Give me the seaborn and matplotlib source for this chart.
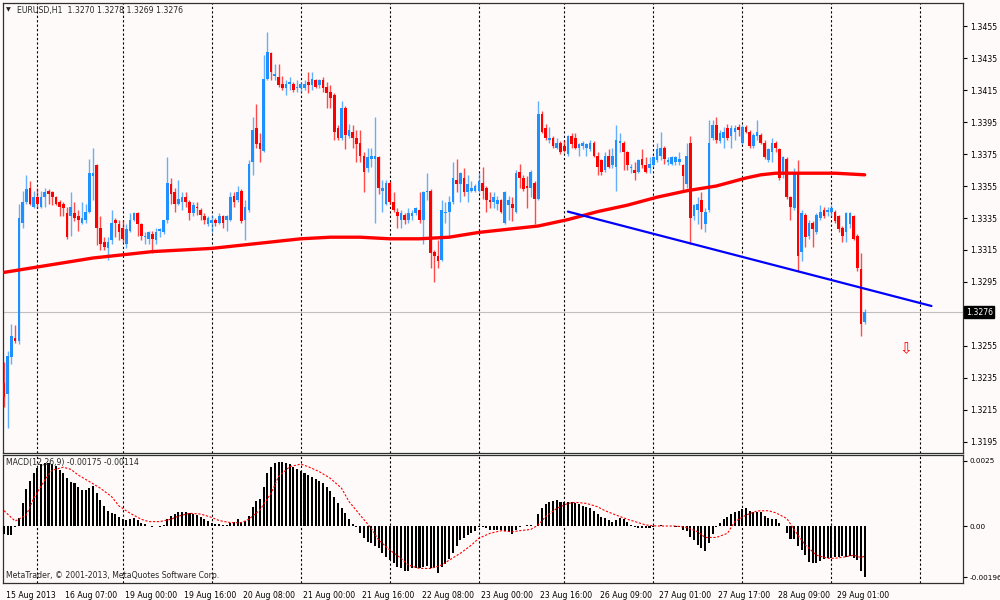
import matplotlib
matplotlib.use("Agg")
import matplotlib.pyplot as plt
import matplotlib.transforms as mtransforms
import numpy as np
import pandas as pd
import seaborn as sns

# ---- EURUSD H1 candles, 15 Aug 15:00 .. 29 Aug 09:00 ----
open_ = [1.3232, 1.3225, 1.3248, 1.3260, 1.3258, 1.3332, 1.3345, 1.3354, 1.3342, 1.3348,
         1.3342, 1.3348, 1.3352, 1.3351, 1.3348, 1.3345, 1.3344, 1.3338, 1.3336, 1.3338,
         1.3336, 1.3332, 1.3334, 1.3339, 1.3361, 1.3368, 1.3329, 1.3320, 1.3316, 1.3321,
         1.3334, 1.3331, 1.3329, 1.3319, 1.3327, 1.3334, 1.3338, 1.3331, 1.3323, 1.3322,
         1.3325, 1.3321, 1.3327, 1.3326, 1.3334, 1.3356, 1.3351, 1.3344, 1.3345, 1.3348,
         1.3345, 1.3338, 1.3342, 1.3340, 1.3336, 1.3331, 1.3332, 1.3334, 1.3332, 1.3336,
         1.3334, 1.3334, 1.3349, 1.3346, 1.3352, 1.3334, 1.3340, 1.3370, 1.3391, 1.3382,
         1.3377, 1.3422, 1.3438, 1.3424, 1.3423, 1.3419, 1.3416, 1.3419, 1.3419, 1.3416,
         1.3416, 1.3416, 1.3420, 1.3418, 1.3421, 1.3418, 1.3421, 1.3417, 1.3414, 1.3412,
         1.3391, 1.3385, 1.3404, 1.3386, 1.3389, 1.3385, 1.3382, 1.3374, 1.3366, 1.3372,
         1.3372, 1.3373, 1.3352, 1.3344, 1.3357, 1.3345, 1.3339, 1.3334, 1.3337, 1.3334,
         1.3336, 1.3338, 1.3340, 1.3334, 1.3351, 1.3352, 1.3314, 1.3311, 1.3309, 1.3338,
         1.3339, 1.3345, 1.3359, 1.3356, 1.3360, 1.3351, 1.3352, 1.3352, 1.3352, 1.3357,
         1.3354, 1.3346, 1.3345, 1.3344, 1.3346, 1.3332, 1.3343, 1.3344, 1.3339, 1.3364,
         1.3360, 1.3355, 1.3354, 1.3357, 1.3347, 1.3400, 1.3391, 1.3384, 1.3385, 1.3379,
         1.3382, 1.3380, 1.3375, 1.3386, 1.3385, 1.3379, 1.3380, 1.3379, 1.3378, 1.3382,
         1.3374, 1.3371, 1.3365, 1.3374, 1.3368, 1.3367, 1.3382, 1.3382, 1.3376, 1.3366,
         1.3365, 1.3364, 1.3372, 1.3368, 1.3366, 1.3368, 1.3371, 1.3374, 1.3379, 1.3370,
         1.3369, 1.3370, 1.3370, 1.3368, 1.3356, 1.3382, 1.3336, 1.3340, 1.3346, 1.3331,
         1.3340, 1.3385, 1.3393, 1.3383, 1.3385, 1.3391, 1.3386, 1.3389, 1.3392, 1.3382,
         1.3392, 1.3389, 1.3380, 1.3386, 1.3387, 1.3382, 1.3371, 1.3376, 1.3382, 1.3378,
         1.3362, 1.3372, 1.3348, 1.3341, 1.3364, 1.3314, 1.3337, 1.3324, 1.3332, 1.3326,
         1.3335, 1.3340, 1.3339, 1.3339, 1.3339, 1.3336, 1.3329, 1.3326, 1.3331, 1.3336,
         1.3324, 1.3303, 1.3270]
high = [1.3245, 1.3252, 1.3269, 1.3268, 1.3344, 1.3352, 1.3362, 1.3358, 1.3352, 1.3354,
        1.3352, 1.3354, 1.3353, 1.3352, 1.3349, 1.3346, 1.3345, 1.3342, 1.3351, 1.3345,
        1.3340, 1.3345, 1.3344, 1.3372, 1.3379, 1.3369, 1.3336, 1.3323, 1.3323, 1.3340,
        1.3335, 1.3334, 1.3334, 1.3331, 1.3338, 1.3339, 1.3339, 1.3332, 1.3326, 1.3327,
        1.3327, 1.3329, 1.3329, 1.3334, 1.3373, 1.3360, 1.3354, 1.3359, 1.3351, 1.3351,
        1.3346, 1.3345, 1.3345, 1.3341, 1.3338, 1.3336, 1.3337, 1.3335, 1.3338, 1.3337,
        1.3337, 1.3351, 1.3351, 1.3355, 1.3353, 1.3346, 1.3371, 1.3398, 1.3406, 1.3388,
        1.3437, 1.3451, 1.3439, 1.3431, 1.3431, 1.3424, 1.3421, 1.3423, 1.3420, 1.3421,
        1.3420, 1.3421, 1.3426, 1.3426, 1.3422, 1.3422, 1.3423, 1.3420, 1.3418, 1.3413,
        1.3393, 1.3408, 1.3405, 1.3394, 1.3393, 1.3390, 1.3390, 1.3376, 1.3379, 1.3379,
        1.3398, 1.3374, 1.3359, 1.3359, 1.3358, 1.3351, 1.3341, 1.3340, 1.3338, 1.3341,
        1.3340, 1.3342, 1.3351, 1.3352, 1.3363, 1.3353, 1.3315, 1.3321, 1.3346, 1.3345,
        1.3349, 1.3370, 1.3372, 1.3364, 1.3366, 1.3362, 1.3358, 1.3356, 1.3363, 1.3367,
        1.3355, 1.3351, 1.3351, 1.3349, 1.3347, 1.3352, 1.3349, 1.3348, 1.3365, 1.3369,
        1.3362, 1.3361, 1.3365, 1.3358, 1.3408, 1.3402, 1.3394, 1.3392, 1.3386, 1.3385,
        1.3383, 1.3384, 1.3387, 1.3388, 1.3388, 1.3382, 1.3383, 1.3382, 1.3384, 1.3383,
        1.3376, 1.3372, 1.3376, 1.3378, 1.3379, 1.3393, 1.3388, 1.3383, 1.3377, 1.3369,
        1.3370, 1.3372, 1.3378, 1.3373, 1.3373, 1.3374, 1.3382, 1.3389, 1.3380, 1.3373,
        1.3374, 1.3374, 1.3376, 1.3369, 1.3382, 1.3386, 1.3344, 1.3348, 1.3351, 1.3341,
        1.3396, 1.3396, 1.3398, 1.3390, 1.3392, 1.3394, 1.3393, 1.3393, 1.3394, 1.3393,
        1.3393, 1.3390, 1.3388, 1.3396, 1.3388, 1.3384, 1.3379, 1.3385, 1.3383, 1.3379,
        1.3374, 1.3373, 1.3349, 1.3366, 1.3371, 1.3340, 1.3338, 1.3334, 1.3333, 1.3338,
        1.3343, 1.3342, 1.3342, 1.3343, 1.3340, 1.3337, 1.3330, 1.3339, 1.3339, 1.3337,
        1.3325, 1.3313, 1.3278]
low = [1.3217, 1.3204, 1.3244, 1.3257, 1.3256, 1.3329, 1.3344, 1.3343, 1.3341, 1.3341,
       1.3341, 1.3342, 1.3344, 1.3343, 1.3343, 1.3336, 1.3336, 1.3322, 1.3324, 1.3333,
       1.3327, 1.3331, 1.3332, 1.3338, 1.3346, 1.3318, 1.3315, 1.3315, 1.3309, 1.3319,
       1.3323, 1.3321, 1.3320, 1.3316, 1.3326, 1.3333, 1.3324, 1.3321, 1.3319, 1.3319,
       1.3313, 1.3319, 1.3323, 1.3325, 1.3332, 1.3344, 1.3339, 1.3343, 1.3340, 1.3342,
       1.3334, 1.3336, 1.3337, 1.3334, 1.3331, 1.3330, 1.3326, 1.3330, 1.3331, 1.3329,
       1.3327, 1.3333, 1.3342, 1.3345, 1.3332, 1.3321, 1.3339, 1.3362, 1.3379, 1.3370,
       1.3376, 1.3421, 1.3421, 1.3421, 1.3417, 1.3415, 1.3412, 1.3415, 1.3414, 1.3414,
       1.3414, 1.3415, 1.3413, 1.3415, 1.3416, 1.3416, 1.3414, 1.3404, 1.3404, 1.3384,
       1.3384, 1.3384, 1.3378, 1.3385, 1.3379, 1.3370, 1.3370, 1.3351, 1.3364, 1.3367,
       1.3332, 1.3350, 1.3339, 1.3343, 1.3344, 1.3339, 1.3329, 1.3329, 1.3331, 1.3332,
       1.3334, 1.3337, 1.3332, 1.3319, 1.3346, 1.3304, 1.3295, 1.3304, 1.3308, 1.3332,
       1.3323, 1.3344, 1.3351, 1.3345, 1.3349, 1.3345, 1.3351, 1.3351, 1.3351, 1.3347,
       1.3339, 1.3341, 1.3341, 1.3340, 1.3338, 1.3331, 1.3334, 1.3333, 1.3338, 1.3354,
       1.3352, 1.3341, 1.3348, 1.3331, 1.3346, 1.3388, 1.3384, 1.3382, 1.3379, 1.3378,
       1.3375, 1.3376, 1.3374, 1.3379, 1.3378, 1.3374, 1.3378, 1.3374, 1.3377, 1.3373,
       1.3362, 1.3362, 1.3364, 1.3366, 1.3366, 1.3352, 1.3376, 1.3365, 1.3365, 1.3363,
       1.3359, 1.3363, 1.3366, 1.3363, 1.3363, 1.3367, 1.3370, 1.3371, 1.3369, 1.3368,
       1.3368, 1.3368, 1.3368, 1.3352, 1.3354, 1.3319, 1.3334, 1.3331, 1.3328, 1.3326,
       1.3339, 1.3384, 1.3382, 1.3382, 1.3379, 1.3384, 1.3379, 1.3384, 1.3386, 1.3381,
       1.3388, 1.3379, 1.3379, 1.3384, 1.3381, 1.3372, 1.3370, 1.3370, 1.3376, 1.3359,
       1.3360, 1.3347, 1.3334, 1.3340, 1.3302, 1.3308, 1.3317, 1.3322, 1.3317, 1.3325,
       1.3334, 1.3335, 1.3336, 1.3336, 1.3332, 1.3326, 1.3320, 1.3320, 1.3329, 1.3321,
       1.3302, 1.3261, 1.3269]
close = [1.3223, 1.3249, 1.3261, 1.3258, 1.3335, 1.3345, 1.3353, 1.3344, 1.3348, 1.3344,
         1.3348, 1.3351, 1.3350, 1.3348, 1.3344, 1.3342, 1.3341, 1.3323, 1.3342, 1.3335,
         1.3334, 1.3335, 1.3339, 1.3363, 1.3363, 1.3329, 1.3319, 1.3317, 1.3320, 1.3332,
         1.3332, 1.3326, 1.3322, 1.3328, 1.3334, 1.3338, 1.3331, 1.3324, 1.3324, 1.3326,
         1.3322, 1.3326, 1.3328, 1.3334, 1.3357, 1.3350, 1.3344, 1.3347, 1.3348, 1.3345,
         1.3338, 1.3343, 1.3341, 1.3337, 1.3334, 1.3335, 1.3334, 1.3332, 1.3336, 1.3332,
         1.3336, 1.3348, 1.3345, 1.3351, 1.3333, 1.3342, 1.3369, 1.3390, 1.3381, 1.3378,
         1.3422, 1.3439, 1.3426, 1.3425, 1.3418, 1.3416, 1.3419, 1.3420, 1.3415, 1.3417,
         1.3419, 1.3419, 1.3418, 1.3422, 1.3417, 1.3421, 1.3416, 1.3413, 1.3410, 1.3389,
         1.3385, 1.3404, 1.3387, 1.3390, 1.3385, 1.3381, 1.3374, 1.3364, 1.3373, 1.3374,
         1.3374, 1.3354, 1.3354, 1.3357, 1.3345, 1.3340, 1.3336, 1.3338, 1.3334, 1.3338,
         1.3338, 1.3341, 1.3334, 1.3351, 1.3352, 1.3313, 1.3311, 1.3308, 1.3340, 1.3339,
         1.3345, 1.3360, 1.3356, 1.3363, 1.3351, 1.3356, 1.3354, 1.3355, 1.3358, 1.3352,
         1.3346, 1.3345, 1.3348, 1.3346, 1.3339, 1.3351, 1.3346, 1.3341, 1.3363, 1.3360,
         1.3353, 1.3354, 1.3364, 1.3347, 1.3400, 1.3389, 1.3385, 1.3385, 1.3380, 1.3382,
         1.3376, 1.3377, 1.3386, 1.3381, 1.3379, 1.3381, 1.3382, 1.3381, 1.3382, 1.3374,
         1.3367, 1.3364, 1.3374, 1.3367, 1.3374, 1.3384, 1.3383, 1.3376, 1.3368, 1.3367,
         1.3363, 1.3371, 1.3368, 1.3364, 1.3369, 1.3373, 1.3378, 1.3379, 1.3372, 1.3371,
         1.3373, 1.3373, 1.3372, 1.3361, 1.3374, 1.3335, 1.3343, 1.3344, 1.3339, 1.3339,
         1.3382, 1.3393, 1.3384, 1.3388, 1.3389, 1.3385, 1.3391, 1.3391, 1.3390, 1.3392,
         1.3389, 1.3380, 1.3387, 1.3389, 1.3382, 1.3373, 1.3378, 1.3382, 1.3379, 1.3360,
         1.3373, 1.3348, 1.3342, 1.3364, 1.3311, 1.3338, 1.3323, 1.3332, 1.3328, 1.3337,
         1.3339, 1.3336, 1.3340, 1.3341, 1.3333, 1.3328, 1.3324, 1.3338, 1.3338, 1.3322,
         1.3304, 1.3269, 1.3276]

# moving average (red), read every 8 bars
ma_idx = [0, 8, 16, 24, 32, 40, 48, 56, 64, 72, 80, 88, 96, 104, 112, 120, 128, 136,
          144, 152, 160, 168, 176, 184, 192, 200, 204, 208, 216, 224, 232]
ma_val = [1.3301, 1.3304, 1.3307, 1.3310, 1.3312, 1.3314, 1.3315, 1.3316, 1.3318, 1.3320,
          1.3322, 1.3323, 1.3323, 1.3322, 1.3322, 1.3323, 1.3326, 1.3328, 1.3330, 1.3334,
          1.3339, 1.3343, 1.3348, 1.3352, 1.3355, 1.3360, 1.3362, 1.3363, 1.3363, 1.3363, 1.3362]

# trend line (blue)
trend_idx = [152, 250]
trend_val = [1.3339, 1.3280]

bid = 1.3276
arrow_idx, arrow_price = 243, 1.3253

# MACD(12,26,9) histogram
macd = [-0.00030, -0.00035, -0.00035, -0.00005, 0.00029, 0.00087, 0.00141, 0.00174, 0.00205, 0.00222,
        0.00238, 0.00244, 0.00241, 0.00238, 0.00231, 0.00215, 0.00203, 0.00183, 0.00171, 0.00164,
        0.00151, 0.00138, 0.00138, 0.00145, 0.00154, 0.00126, 0.00100, 0.00077, 0.00059, 0.00051,
        0.00046, 0.00033, 0.00026, 0.00023, 0.00027, 0.00032, 0.00023, 0.00013, 0.00008, 0.00001,
        -0.00002, -0.00001, -0.00005, 0.00004, 0.00026, 0.00038, 0.00046, 0.00053, 0.00055, 0.00055,
        0.00051, 0.00046, 0.00042, 0.00036, 0.00027, 0.00019, 0.00013, 0.00008, 0.00008, 0.00004,
        0.00004, 0.00010, 0.00017, 0.00026, 0.00017, 0.00019, 0.00038, 0.00074, 0.00096, 0.00103,
        0.00151, 0.00203, 0.00226, 0.00241, 0.00247, 0.00247, 0.00244, 0.00238, 0.00228, 0.00218,
        0.00213, 0.00205, 0.00196, 0.00187, 0.00179, 0.00174, 0.00164, 0.00151, 0.00136, 0.00113,
        0.00087, 0.00068, 0.00051, 0.00026, 0.00008, -0.00005, -0.00026, -0.00047, -0.00060, -0.00067,
        -0.00077, -0.00086, -0.00105, -0.00118, -0.00131, -0.00144, -0.00156, -0.00163, -0.00172, -0.00172,
        -0.00163, -0.00160, -0.00163, -0.00159, -0.00154, -0.00160, -0.00163, -0.00182, -0.00159, -0.00146,
        -0.00128, -0.00105, -0.00077, -0.00054, -0.00047, -0.00035, -0.00028, -0.00018, -0.00005, -0.00005,
        -0.00009, -0.00015, -0.00015, -0.00015, -0.00015, -0.00018, -0.00022, -0.00031, -0.00015, -0.00005,
        0.00001, 0.00004, 0.00004, 0.00001, 0.00046, 0.00068, 0.00085, 0.00094, 0.00096, 0.00100,
        0.00094, 0.00091, 0.00094, 0.00091, 0.00087, 0.00085, 0.00078, 0.00072, 0.00068, 0.00059,
        0.00046, 0.00033, 0.00029, 0.00023, 0.00017, 0.00023, 0.00029, 0.00026, 0.00017, 0.00004,
        -0.00005, -0.00009, -0.00009, -0.00009, -0.00009, -0.00005, 0.00001, 0.00004, 0.00001, 0.00000,
        0.00001, -0.00005, -0.00005, -0.00015, -0.00018, -0.00044, -0.00054, -0.00073, -0.00086, -0.00095,
        -0.00067, -0.00031, -0.00005, 0.00010, 0.00026, 0.00033, 0.00046, 0.00055, 0.00059, 0.00064,
        0.00068, 0.00059, 0.00055, 0.00055, 0.00055, 0.00038, 0.00029, 0.00027, 0.00026, 0.00010,
        0.00001, -0.00026, -0.00051, -0.00051, -0.00077, -0.00092, -0.00112, -0.00137, -0.00144, -0.00141,
        -0.00133, -0.00128, -0.00124, -0.00124, -0.00118, -0.00118, -0.00115, -0.00118, -0.00115, -0.00124,
        -0.00131, -0.00172, -0.00195]

# signal line (red dashed)
sig_idx = [0, 3, 6, 8, 11, 13, 16, 18, 20, 23, 26, 29, 31, 34, 37, 39, 42, 45, 47, 50,
           53, 56, 58, 61, 64, 66, 69, 72, 74, 77, 80, 82, 85, 88, 91, 93, 96, 99, 101, 104,
           107, 109, 112, 115, 118, 120, 123, 126, 128, 131, 134, 137, 139, 142, 144, 146, 149, 152, 154, 157,
           160, 162, 165, 168, 171, 173, 176, 179, 181, 184, 187, 189, 192, 195, 197, 200, 203, 206, 208, 211,
           214, 216, 219, 222, 224, 227, 229, 231, 232]
sig_val = [0.00059, 0.00019, 0.00042, 0.00106, 0.00177, 0.00215, 0.00226, 0.00218, 0.00196, 0.00171,
           0.00145, 0.00113, 0.00077, 0.00049, 0.00026, 0.00017, 0.00017, 0.00026, 0.00038, 0.00049,
           0.00046, 0.00033, 0.00021, 0.00013, 0.00013, 0.00026, 0.00062, 0.00126, 0.00190, 0.00228,
           0.00238, 0.00228, 0.00209, 0.00183, 0.00145, 0.00094, 0.00042, -0.00009, -0.00054, -0.00092,
           -0.00124, -0.00150, -0.00163, -0.00163, -0.00150, -0.00131, -0.00105, -0.00073, -0.00047, -0.00028,
           -0.00018, -0.00022, -0.00018, -0.00013, 0.00004, 0.00036, 0.00068, 0.00087, 0.00091, 0.00087,
           0.00074, 0.00059, 0.00042, 0.00026, 0.00013, 0.00004, 0.00000, 0.00000, 0.00000, -0.00005,
           -0.00022, -0.00044, -0.00044, -0.00028, 0.00017, 0.00042, 0.00058, 0.00059, 0.00051, 0.00029,
           -0.00035, -0.00073, -0.00112, -0.00124, -0.00124, -0.00118, -0.00112, -0.00121, -0.00116]

sep_idx = [9, 32, 56, 80, 104, 128, 151, 175, 199, 223, 247]
tick_idx = list(range(0, 225, 16))
tick_labels = ['15 Aug 2013', '16 Aug 07:00', '19 Aug 00:00', '19 Aug 16:00', '20 Aug 08:00',
               '21 Aug 00:00', '21 Aug 16:00', '22 Aug 08:00', '23 Aug 00:00', '23 Aug 16:00',
               '26 Aug 09:00', '27 Aug 01:00', '27 Aug 17:00', '28 Aug 09:00', '29 Aug 01:00']
price_ticks = [1.3455, 1.3435, 1.3415, 1.3395, 1.3375, 1.3355, 1.3335, 1.3315, 1.3295,
               1.3255, 1.3235, 1.3215, 1.3195]

sns.set_style("white")
plt.rcParams['font.family'] = ['DejaVu Sans']
BG = '#FFFAFA'
FS = 5.6

fig = plt.figure(figsize=(10, 6), dpi=100, facecolor=BG)
ax = fig.add_axes([0.003, 0.245, 0.960, 0.750])
axm = fig.add_axes([0.003, 0.02833, 0.960, 0.21333])

df = pd.DataFrame({'open': open_, 'high': high, 'low': low, 'close': close})
df['idx'] = np.arange(len(df))
colors = np.where(df['close'] >= df['open'], '#1E90FF', '#FF0000')

# candles
ax.vlines(df['idx'], df['low'], df['high'], colors=colors, lw=1.0, alpha=0.7, zorder=3)
body_bottom = df[['open', 'close']].min(axis=1)
body_h = (df['close'] - df['open']).abs().clip(lower=0.00004)
ax.bar(df['idx'], body_h, bottom=body_bottom, width=0.72, color=colors, linewidth=0, zorder=4)

sns.lineplot(x=ma_idx, y=ma_val, ax=ax, color='#FF0000', lw=2.4, zorder=5)
ax.plot(trend_idx, trend_val, color='#0000FF', lw=1.6, zorder=5)
ax.axhline(bid, color='#C0C0C0', lw=0.8, zorder=2)
ax.text(arrow_idx, arrow_price, '\u21e9', color='#FF0000', fontsize=11, ha='center', va='center')

for a in (ax, axm):
    a.set_facecolor(BG)
    for s in sep_idx:
        a.axvline(s, color='black', lw=0.8, dashes=(2, 2), zorder=1)
    for sp in a.spines.values():
        sp.set_color('#303030')
        sp.set_linewidth(0.9)
    a.set_xlim(-0.27, 258.5)

ax.set_ylim(1.31881, 1.34694)
ax.set_xticks([])
ax.yaxis.tick_right()
ax.set_yticks(price_ticks)
ax.set_yticklabels(['%.4f' % p for p in price_ticks])
ax.tick_params(axis='y', labelsize=FS, length=3, pad=2, direction='out', colors='black')

# current price box
trans = mtransforms.blended_transform_factory(ax.transAxes, ax.transData)
ax.text(1.003, bid, '%.4f' % bid, transform=trans, color='white', fontsize=FS,
        ha='left', va='center', bbox=dict(boxstyle='square,pad=0.2', fc='black', ec='black'))

# MACD panel
axm.bar(df['idx'], macd, width=0.55, color='black', linewidth=0, zorder=3)
axm.plot(sig_idx, sig_val, color='#FF0000', lw=0.8, dashes=(2, 1.5), zorder=4)
axm.set_ylim(-0.00219, 0.00273)
axm.yaxis.tick_right()
axm.set_yticks([0.0025, 0.0, -0.00196])
axm.set_yticklabels(['0.0025', '0.00', '-0.00196'])
axm.tick_params(axis='y', labelsize=5.2, length=3, pad=1.5, direction='out', colors='black')
axm.set_xticks(tick_idx)
axm.set_xticklabels(tick_labels)
axm.tick_params(axis='x', labelsize=FS, length=4, pad=1.5, direction='out', colors='black')
offset = mtransforms.ScaledTranslation(2 / 100, 0, fig.dpi_scale_trans)
for lbl in axm.get_xticklabels():
    lbl.set_horizontalalignment('left')
    lbl.set_transform(lbl.get_transform() + offset)

fig.text(0.006, 1 - 10 / 600, '\u25bc', fontsize=4.5, va='center', ha='left')
fig.text(0.017, 1 - 10 / 600, 'EURUSD,H1  1.3270 1.3278 1.3269 1.3276', fontsize=FS, va='center', ha='left')
fig.text(0.006, 1 - 463 / 600, 'MACD(12,26,9) -0.00175 -0.00114', fontsize=FS, va='center', ha='left')
fig.text(0.006, 1 - 576 / 600, 'MetaTrader, \u00a9 2001-2013, MetaQuotes Software Corp.',
         fontsize=FS, va='center', ha='left')

fig.savefig('out.png', dpi=100, facecolor=BG)
